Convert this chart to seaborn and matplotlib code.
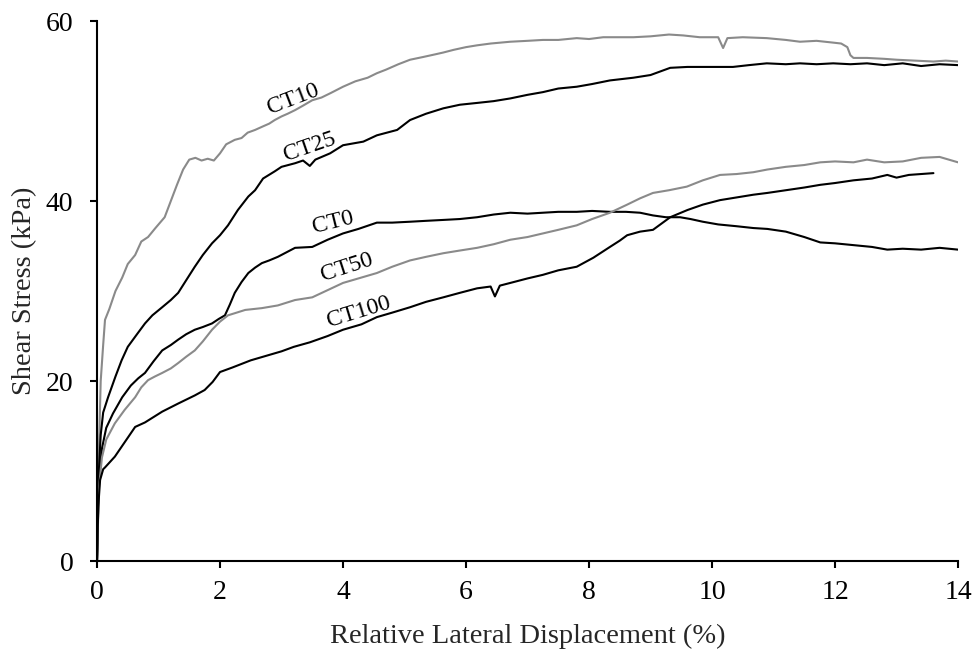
import matplotlib
matplotlib.use("Agg")
import matplotlib.pyplot as plt
import seaborn as sns
import pandas as pd

# ---------------- data ----------------
ct10_x = [0, 0.03, 0.06, 0.1, 0.13, 0.2, 0.3, 0.41, 0.5, 0.62, 0.72, 0.83, 0.95, 1.1, 1.2, 1.3, 1.4, 1.5,
          1.6, 1.7, 1.8, 1.9, 2.0, 2.1, 2.24, 2.35, 2.45, 2.57, 2.7, 2.8, 2.89, 3.0, 3.1, 3.22, 3.35, 3.5,
          3.65, 3.8, 4.0, 4.2, 4.4, 4.55, 4.7, 4.9, 5.09, 5.3, 5.5, 5.63, 5.8, 6.0, 6.18, 6.4, 6.72, 7.0,
          7.25, 7.5, 7.8, 8.0, 8.23, 8.5, 8.72, 9.0, 9.3, 9.53, 9.8, 10.1, 10.18, 10.25, 10.5, 10.89, 11.2,
          11.43, 11.7, 11.97, 12.1, 12.2, 12.25, 12.3, 12.52, 12.8, 13.0, 13.3, 13.6, 13.8, 14.0]
ct10_y = [0, 12, 20, 24, 26.8, 28, 30, 31.5, 33, 34, 35.5, 36, 37, 38.2, 40, 41.8, 43.5, 44.6,
          44.8, 44.5, 44.7, 44.5, 45.3, 46.3, 46.8, 47.0, 47.6, 47.9, 48.3, 48.6, 49.0, 49.4, 49.7, 50.1, 50.6, 51.2,
          51.5, 52.0, 52.7, 53.3, 53.7, 54.2, 54.6, 55.2, 55.7, 56.0, 56.3, 56.5, 56.8, 57.1, 57.3, 57.5, 57.7, 57.8,
          57.9, 57.9, 58.1, 58.0, 58.2, 58.2, 58.2, 58.3, 58.5, 58.4, 58.2, 58.2, 57.0, 58.1, 58.2, 58.1, 57.9,
          57.7, 57.8, 57.6, 57.5, 57.1, 56.2, 55.9, 55.9, 55.8, 55.7, 55.6, 55.5, 55.6, 55.5]

ct25_x = [0, 0.03, 0.06, 0.1, 0.18, 0.3, 0.4, 0.5, 0.65, 0.78, 0.9, 1.06, 1.2, 1.32, 1.45, 1.59, 1.72, 1.87,
          2.0, 2.13, 2.29, 2.46, 2.57, 2.7, 2.89, 3.0, 3.22, 3.35, 3.46, 3.55, 3.79, 4.0, 4.33, 4.55, 4.88,
          5.09, 5.35, 5.63, 5.9, 6.18, 6.45, 6.72, 7.0, 7.25, 7.5, 7.8, 8.05, 8.34, 8.72, 9.0, 9.32, 9.6,
          10.0, 10.34, 10.6, 10.89, 11.2, 11.43, 11.7, 11.97, 12.25, 12.52, 12.8, 13.1, 13.4, 13.7, 14.0]
ct25_y = [0, 10, 14, 16.5, 18.2, 20.5, 22.3, 23.8, 25.2, 26.4, 27.3, 28.2, 29.0, 29.8, 31.2, 32.7, 34.0, 35.3,
          36.2, 37.3, 39.0, 40.5, 41.2, 42.5, 43.3, 43.8, 44.2, 44.5, 43.9, 44.6, 45.3, 46.2, 46.6, 47.3, 47.9,
          49.0, 49.7, 50.3, 50.7, 50.9, 51.1, 51.4, 51.8, 52.1, 52.5, 52.7, 53.0, 53.4, 53.7, 54.0, 54.8, 54.9,
          54.9, 54.9, 55.1, 55.3, 55.2, 55.3, 55.2, 55.3, 55.2, 55.3, 55.1, 55.3, 55.0, 55.2, 55.1]

ct0_x = [0, 0.03, 0.08, 0.15, 0.26, 0.41, 0.55, 0.67, 0.78, 0.92, 1.06, 1.2, 1.32, 1.45, 1.59, 1.72, 1.87,
         1.98, 2.08, 2.16, 2.24, 2.35, 2.46, 2.57, 2.68, 2.8, 2.94, 3.08, 3.22, 3.5, 3.75, 4.0, 4.25, 4.55,
         4.8, 5.09, 5.35, 5.63, 5.9, 6.18, 6.45, 6.72, 7.0, 7.25, 7.5, 7.8, 8.05, 8.34, 8.6, 8.83, 9.04,
         9.25, 9.48, 9.65, 9.85, 10.1, 10.4, 10.67, 10.9, 11.2, 11.5, 11.76, 12.0, 12.3, 12.6, 12.85, 13.1,
         13.4, 13.7, 14.0]
ct0_y = [0, 9, 12.5, 14.8, 16.4, 18.2, 19.5, 20.3, 20.9, 22.2, 23.4, 24.0, 24.6, 25.2, 25.7, 26.0, 26.4,
         26.9, 27.3, 28.5, 29.8, 31.0, 32.0, 32.6, 33.1, 33.4, 33.8, 34.3, 34.8, 34.9, 35.7, 36.4, 36.9, 37.6,
         37.6, 37.7, 37.8, 37.9, 38.0, 38.2, 38.5, 38.7, 38.6, 38.7, 38.8, 38.8, 38.9, 38.8, 38.8, 38.7, 38.4,
         38.2, 38.2, 38.0, 37.7, 37.4, 37.2, 37.0, 36.9, 36.6, 36.0, 35.4, 35.3, 35.1, 34.9, 34.6, 34.7,
         34.6, 34.8, 34.6]

ct50_x = [0, 0.03, 0.08, 0.15, 0.29, 0.45, 0.62, 0.72, 0.83, 0.94, 1.06, 1.2, 1.32, 1.45, 1.59, 1.72, 1.87,
          2.0, 2.13, 2.27, 2.41, 2.68, 2.94, 3.22, 3.5, 3.75, 4.0, 4.3, 4.55, 4.8, 5.09, 5.35, 5.63, 5.9,
          6.18, 6.45, 6.72, 7.0, 7.25, 7.5, 7.8, 8.05, 8.34, 8.62, 8.83, 9.04, 9.3, 9.59, 9.85, 10.13, 10.4,
          10.67, 10.9, 11.2, 11.5, 11.76, 12.0, 12.3, 12.52, 12.8, 13.1, 13.4, 13.7, 14.0]
ct50_y = [0, 8, 11.5, 13.5, 15.3, 16.8, 18.2, 19.3, 20.1, 20.5, 20.9, 21.4, 22.0, 22.7, 23.4, 24.4, 25.7,
          26.6, 27.3, 27.6, 27.9, 28.1, 28.4, 29.0, 29.3, 30.1, 30.9, 31.5, 32.0, 32.7, 33.4, 33.8, 34.2, 34.5,
          34.8, 35.2, 35.7, 36.0, 36.4, 36.8, 37.3, 38.0, 38.7, 39.6, 40.3, 40.9, 41.2, 41.6, 42.3, 42.9, 43.0,
          43.2, 43.5, 43.8, 44.0, 44.3, 44.4, 44.3, 44.6, 44.3, 44.4, 44.8, 44.9, 44.3]

ct100_x = [0, 0.02, 0.05, 0.1, 0.13, 0.21, 0.29, 0.45, 0.62, 0.78, 0.92, 1.06, 1.32, 1.59, 1.75, 1.88, 2.0,
           2.2, 2.5, 2.75, 3.0, 3.2, 3.46, 3.75, 4.0, 4.3, 4.55, 4.8, 5.09, 5.35, 5.63, 5.9, 6.18, 6.4, 6.47,
           6.55, 6.72, 7.0, 7.25, 7.5, 7.8, 8.07, 8.34, 8.5, 8.62, 8.83, 9.04, 9.32, 9.6, 9.85, 10.13, 10.4,
           10.67, 10.9, 11.2, 11.5, 11.76, 12.0, 12.3, 12.6, 12.85, 13.0, 13.2, 13.6]
ct100_y = [0, 6, 9, 10.2, 10.4, 11.0, 11.6, 13.2, 14.9, 15.4, 16.0, 16.6, 17.5, 18.4, 19.0, 19.9, 21.0,
           21.5, 22.3, 22.8, 23.3, 23.8, 24.3, 25.0, 25.7, 26.3, 27.1, 27.6, 28.2, 28.8, 29.3, 29.8, 30.3, 30.5, 29.4,
           30.6, 30.9, 31.4, 31.8, 32.3, 32.7, 33.7, 34.9, 35.6, 36.2, 36.6, 36.8, 38.2, 39.0, 39.6, 40.1, 40.4,
           40.7, 40.9, 41.2, 41.5, 41.8, 42.0, 42.3, 42.5, 42.9, 42.6, 42.9, 43.1]

series_names = ["CT10", "CT25", "CT0", "CT50", "CT100"]
x_ticks = [0, 2, 4, 6, 8, 10, 12, 14]
y_ticks = [0, 20, 40, 60]

# ---------------- build long-form table ----------------
frames = []
for name, xs, ys in zip(series_names,
                        [ct10_x, ct25_x, ct0_x, ct50_x, ct100_x],
                        [ct10_y, ct25_y, ct0_y, ct50_y, ct100_y]):
    frames.append(pd.DataFrame({"x": xs, "y": ys, "series": name}))
df = pd.concat(frames, ignore_index=True)

sns.set_style("ticks")
plt.rcParams["font.family"] = ["Liberation Serif", "DejaVu Serif"]
plt.rcParams["axes.linewidth"] = 1.5

palette = {"CT10": "#8a8a8a", "CT25": "#000000", "CT0": "#000000",
           "CT50": "#8a8a8a", "CT100": "#000000"}

fig = plt.figure(figsize=(9.75, 6.51), dpi=100)
ax = fig.add_axes([0.0995, 0.1382, 0.8831, 0.8295])

sns.lineplot(data=df, x="x", y="y", hue="series", palette=palette,
             estimator=None, sort=False, units="series", linewidth=1.5,
             legend=False, ax=ax)

ax.set_xlim(0, 14)
ax.set_ylim(0, 60)
ax.set_xticks(x_ticks)
ax.set_yticks(y_ticks)
ax.tick_params(axis="both", direction="out", length=5, width=1.5,
               labelsize=20, colors="black")
ax.tick_params(axis="x", pad=9)
ax.tick_params(axis="y", pad=12)
for s in ["left", "bottom"]:
    ax.spines[s].set_color("black")
    ax.spines[s].set_linewidth(1.5)
sns.despine(ax=ax)

ax.set_xlabel("Relative Lateral Displacement (%)", fontsize=20.5, labelpad=13)
ax.set_ylabel("Shear Stress (kPa)", fontsize=20.5, labelpad=6)

# curve labels
label_pos = {"CT10": (3.19, 51.3, 21), "CT25": (3.46, 46.0, 19), "CT0": (3.84, 37.6, 14),
             "CT50": (4.07, 32.6, 18), "CT100": (4.26, 27.7, 17)}
for name in series_names:
    lx, ly, rot = label_pos[name]
    ax.text(lx, ly, name, fontsize=17, rotation=rot, rotation_mode="anchor",
            ha="center", va="center", color="black")

fig.savefig("out.png", dpi=100)
